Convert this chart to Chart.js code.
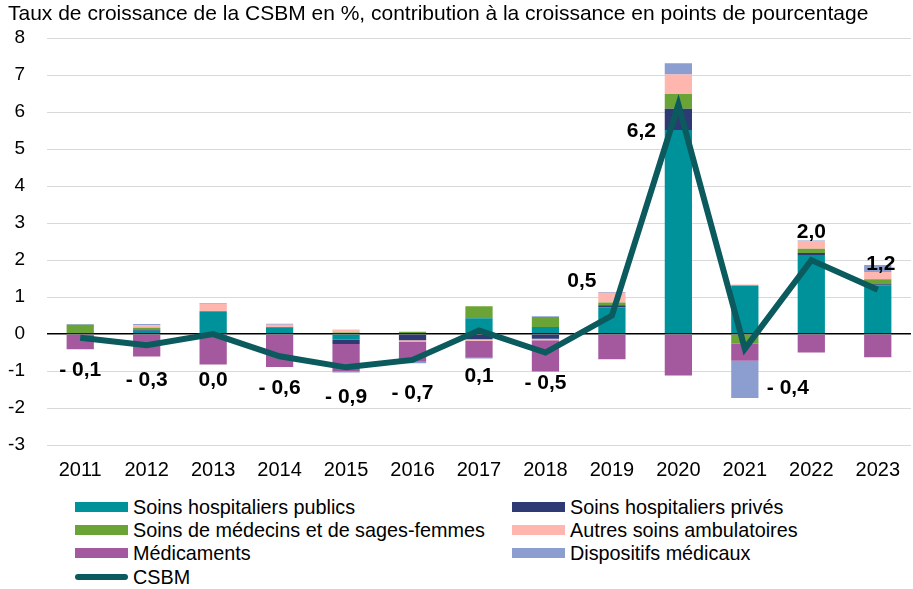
<!DOCTYPE html>
<html>
<head>
<meta charset="utf-8">
<script src="https://cdn.jsdelivr.net/npm/chart.js@4.4.1/dist/chart.umd.min.js"></script>
<style>
  html, body { margin: 0; padding: 0; background: #fff; }
  #wrap { position: relative; width: 913px; height: 589px; font-family: "Liberation Sans", Arial, sans-serif; }
  #cv { position: absolute; left: 0; top: 0; }
  .lg { position: absolute; font-size: 19.8px; color: #000; line-height: 22px; white-space: nowrap; }
  .sw { position: absolute; width: 53px; height: 10px; }
  .swl { position: absolute; width: 53px; height: 6px; border-radius: 3px; }
</style>
</head>
<body>
<div id="wrap">
  <canvas id="cv" width="913" height="490"></canvas>
  <div id="legend"></div>
</div>
<script>
// ---- data ----
const years = ['2011','2012','2013','2014','2015','2016','2017','2018','2019','2020','2021','2022','2023'];
const hospPublics  = [0.00, 0.09, 0.62, 0.18, -0.15, -0.02, 0.43, 0.19, 0.72, 5.52, 1.31, 2.14, 1.32];
const hospPrives   = [0.00, 0.02, 0.00, 0.01, -0.12, -0.15, -0.14, -0.13, 0.06, 0.57, 0.00, 0.05, 0.03];
const medecins     = [0.25, 0.06, 0.00, 0.00, 0.04, 0.06, 0.32, 0.27, 0.07, 0.40, -0.26, 0.12, 0.13];
const autresAmbu   = [0.00, 0.07, 0.20, 0.06, 0.08, -0.03, -0.04, -0.04, 0.27, 0.53, 0.03, 0.19, 0.20];
const medicaments  = [-0.41, -0.61, -0.82, -0.89, -0.74, -0.55, -0.46, -0.84, -0.68, -1.12, -0.46, -0.50, -0.63];
const dispositifs  = [0.02, 0.03, 0.02, 0.03, -0.03, -0.04, -0.02, 0.02, 0.02, 0.30, -1.01, 0.03, 0.19];
const csbm         = [-0.1, -0.3, 0.0, -0.6, -0.9, -0.7, 0.1, -0.5, 0.5, 6.2, -0.4, 2.0, 1.2];
const yTicks       = [-3, -2, -1, 0, 1, 2, 3, 4, 5, 6, 7, 8];

// ---- styles ----
const FONT = '"Liberation Sans", Arial, sans-serif';
const colors = {
  pub: '#00929A', priv: '#2E3A74', med: '#6AA336', aut: '#FFB6AE',
  medic: '#A4589E', disp: '#8B9ECF', csbm: '#0B5A5E'
};
// label offsets relative to each line point (px)
const labelOffsets = [
  [0, 32], [0, 35], [0, 46], [0, 32], [0, 30], [0, 33], [0, 46], [0, 31],
  [-30, -34], [-37, 26], [43, 39], [0, -28], [3, -25]
];

function fmt(v) {
  const s = Math.abs(v).toFixed(1).replace('.', ',');
  return v < 0 ? '- ' + s : s;
}

const barDs = (label, data, color) => ({
  type: 'bar', label, data, backgroundColor: color, stack: 'contrib',
  order: 1, barPercentage: 0.41, categoryPercentage: 1.0, borderWidth: 0
});

const labelPlugin = {
  id: 'csbmLabels',
  afterDatasetsDraw(chart) {
    const meta = chart.getDatasetMeta(0);
    const ctx = chart.ctx;
    ctx.save();
    ctx.font = 'bold 21px ' + FONT;
    ctx.fillStyle = '#000';
    ctx.textAlign = 'center';
    ctx.textBaseline = 'middle';
    meta.data.forEach((pt, i) => {
      const o = labelOffsets[i];
      ctx.fillText(fmt(csbm[i]), pt.x + o[0], pt.y + o[1]);
    });
    ctx.restore();
  }
};

const chart = new Chart(document.getElementById('cv'), {
  data: {
    labels: years,
    datasets: [
      { type: 'line', label: 'CSBM', data: csbm, borderColor: colors.csbm, borderWidth: 6,
        pointRadius: 0, tension: 0, stack: 'line', order: 0, fill: false },
      barDs('Soins hospitaliers publics', hospPublics, colors.pub),
      barDs('Soins hospitaliers privés', hospPrives, colors.priv),
      barDs('Soins de médecins et de sages-femmes', medecins, colors.med),
      barDs('Autres soins ambulatoires', autresAmbu, colors.aut),
      barDs('Médicaments', medicaments, colors.medic),
      barDs('Dispositifs médicaux', dispositifs, colors.disp)
    ]
  },
  options: {
    responsive: false,
    animation: false,
    layout: { padding: { left: 8, right: 0, top: 0, bottom: 0 } },
    plugins: {
      legend: { display: false },
      tooltip: { enabled: false },
      title: {
        display: true, align: 'start', color: '#000',
        text: 'Taux de croissance de la CSBM en %, contribution à la croissance en points de pourcentage',
        font: { family: FONT, size: 21, weight: 'normal' },
        padding: { top: 2, bottom: 11 }
      }
    },
    scales: {
      x: {
        stacked: true,
        grid: { display: false, drawTicks: false },
        border: { display: false },
        ticks: { color: '#000', font: { family: FONT, size: 20 }, padding: 13 },
        afterFit(s) { s.height = 45; }
      },
      y: {
        stacked: true,
        min: -3, max: 8,
        afterBuildTicks(s) { s.ticks = yTicks.map(v => ({ value: v })); },
        grid: {
          drawTicks: false,
          color: c => (c.tick && c.tick.value === 0) ? '#000' : '#D9D9D9',
          lineWidth: c => (c.tick && c.tick.value === 0) ? 1.5 : 1
        },
        border: { display: false },
        ticks: { color: '#000', font: { family: FONT, size: 19 }, padding: 22,
                 callback: v => String(v) },
        afterFit(s) { s.width = 39; }
      }
    }
  },
  plugins: [labelPlugin]
});

// ---- legend (HTML) ----
const legendItems = [
  { label: 'Soins hospitaliers publics', color: colors.pub, col: 0, row: 0 },
  { label: 'Soins hospitaliers privés', color: colors.priv, col: 1, row: 0 },
  { label: 'Soins de médecins et de sages-femmes', color: colors.med, col: 0, row: 1 },
  { label: 'Autres soins ambulatoires', color: colors.aut, col: 1, row: 1 },
  { label: 'Médicaments', color: colors.medic, col: 0, row: 2 },
  { label: 'Dispositifs médicaux', color: colors.disp, col: 1, row: 2 },
  { label: 'CSBM', color: colors.csbm, col: 0, row: 3, line: true }
];
const lg = document.getElementById('legend');
const colX = [75, 512];
const rowY = [507, 530, 553, 577];
legendItems.forEach(it => {
  const sw = document.createElement('div');
  sw.className = it.line ? 'swl' : 'sw';
  sw.style.background = it.color;
  sw.style.left = colX[it.col] + 'px';
  sw.style.top = (rowY[it.row] - (it.line ? 3 : 5)) + 'px';
  lg.appendChild(sw);
  const t = document.createElement('div');
  t.className = 'lg';
  t.textContent = it.label;
  t.style.left = (colX[it.col] + 58) + 'px';
  t.style.top = (rowY[it.row] - 11) + 'px';
  lg.appendChild(t);
});
</script>
</body>
</html>
